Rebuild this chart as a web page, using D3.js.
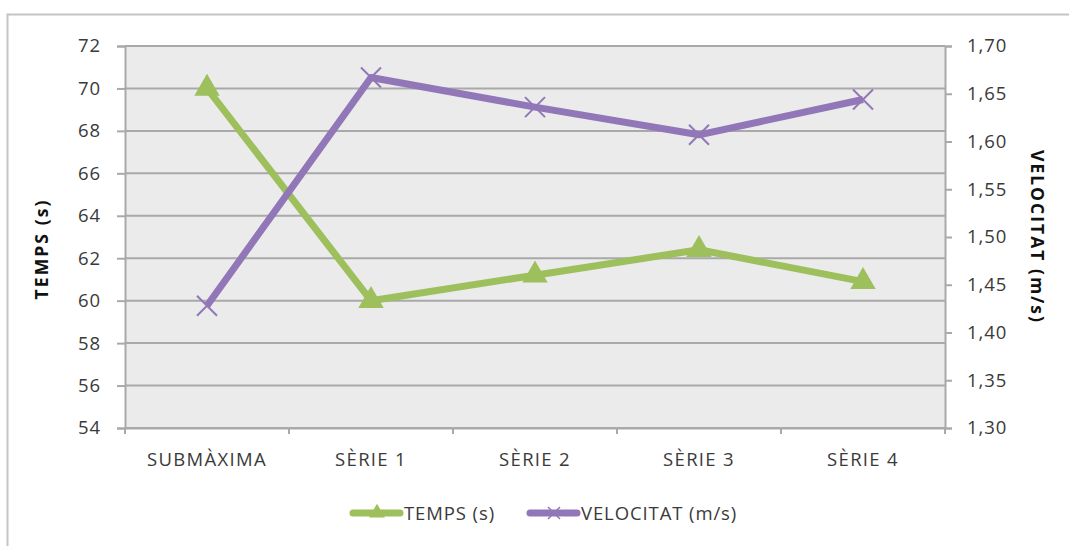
<!DOCTYPE html>
<html><head><meta charset="utf-8">
<script src="https://cdn.jsdelivr.net/npm/d3@7"></script>
<style>
html,body{margin:0;padding:0;background:#fff;}
svg text{font-family:"Open Sans","Liberation Sans",sans-serif;}
</style></head>
<body><svg id="c" width="1069" height="546"></svg>
<script>
const categories = ["SUBMÀXIMA","SÈRIE 1","SÈRIE 2","SÈRIE 3","SÈRIE 4"];
const temps = [70, 60, 61.2, 62.4, 60.9];
const velocitat = [1.428, 1.667, 1.636, 1.607, 1.644];
const leftTicks = [54,56,58,60,62,64,66,68,70,72];
const rightTicks = [1.30,1.35,1.40,1.45,1.50,1.55,1.60,1.65,1.70];
const seriesNames = ["TEMPS (s)","VELOCITAT (m/s)"];
const leftTitle = "TEMPS (s)";
const rightTitle = "VELOCITAT (m/s)";

const svg = d3.select("#c");
const L = 125, R = 945, T = 46, B = 428;
const green = "#9dbf5c", purple = "#9277b8", grid = "#a9a9a9", axisC = "#a9a9a9", txt = "#3a3a3a";
const FS = "18.5px", LS = "0.9px";

// outer frame (left + top only visible)
svg.append("path").attr("d","M7.5,546 V14.5 H1069").attr("fill","none").attr("stroke","#c4c4c4").attr("stroke-width",2);

const x = d3.scaleBand().domain(categories).range([L,R]);
const yL = d3.scaleLinear().domain([54,72]).range([B,T]);
const yR = d3.scaleLinear().domain([1.30,1.70]).range([B,T]);

svg.append("rect").attr("x",L).attr("y",T).attr("width",R-L).attr("height",B-T).attr("fill","#ebebeb");

// gridlines
svg.append("g").selectAll("line").data(leftTicks).join("line")
  .attr("x1",L).attr("x2",R).attr("y1",d=>yL(d)).attr("y2",d=>yL(d))
  .attr("stroke",grid).attr("stroke-width",2);

// left axis
const gl = svg.append("g").attr("transform",`translate(${L},0)`)
  .call(d3.axisLeft(yL).tickValues(leftTicks).tickSize(8).tickPadding(16).tickFormat(d3.format("d")));
// right axis
const gr = svg.append("g").attr("transform",`translate(${R},0)`)
  .call(d3.axisRight(yR).tickValues(rightTicks).tickSize(7).tickPadding(15).tickFormat(d=>d3.format(".2f")(d).replace(".",",")));
// bottom axis
const gb = svg.append("g").attr("transform",`translate(0,${B})`)
  .call(d3.axisBottom(x).tickSize(0).tickPadding(25));
// category boundary ticks
svg.append("g").selectAll("line").data(d3.range(categories.length+1)).join("line")
  .attr("x1",i=>L+i*x.bandwidth()).attr("x2",i=>L+i*x.bandwidth())
  .attr("y1",B).attr("y2",B+6).attr("stroke",axisC).attr("stroke-width",2);

[gl,gr,gb].forEach(g=>{
  g.select(".domain").attr("stroke",axisC).attr("stroke-width",2);
  g.selectAll(".tick line").attr("stroke",axisC).attr("stroke-width",2);
  g.selectAll("text").attr("fill",txt).style("font-size",FS).style("letter-spacing",LS);
});
gb.selectAll("text").style("letter-spacing","1.3px");

// axis titles
svg.append("text").attr("transform",`translate(48,250) rotate(-90)`)
  .attr("text-anchor","middle").style("font-size","17.5px").style("font-weight","bold").attr("fill","#111")
  .attr("textLength",99).attr("lengthAdjust","spacing").text(leftTitle);
svg.append("text").attr("transform",`translate(1031,236) rotate(90)`)
  .attr("text-anchor","middle").style("font-size","17.5px").style("font-weight","bold").attr("fill","#111")
  .attr("textLength",172).attr("lengthAdjust","spacing").text(rightTitle);

const cx = d=>x(d)+x.bandwidth()/2;

// lines
const lineL = d3.line().x((d,i)=>cx(categories[i])).y(d=>yL(d));
const lineR = d3.line().x((d,i)=>cx(categories[i])).y(d=>yR(d));
svg.append("path").attr("d",lineL(temps)).attr("fill","none").attr("stroke",green).attr("stroke-width",7).attr("stroke-linejoin","round");
svg.append("path").attr("d",lineR(velocitat)).attr("fill","none").attr("stroke",purple).attr("stroke-width",7).attr("stroke-linejoin","round");

// markers
const tri = d3.symbol().type(d3.symbolTriangle).size(280);
svg.append("g").selectAll("path").data(temps).join("path")
  .attr("d",tri).attr("transform",(d,i)=>`translate(${cx(categories[i])},${yL(d)})`).attr("fill",green);
const cross = s=>`M${-s},${-s}L${s},${s}M${-s},${s}L${s},${-s}`;
svg.append("g").selectAll("path").data(velocitat).join("path")
  .attr("d",cross(10)).attr("transform",(d,i)=>`translate(${cx(categories[i])},${yR(d)})`)
  .attr("stroke",purple).attr("stroke-width",2).attr("fill","none");

// legend
const lg = svg.append("g");
const legendItems = [{name:seriesNames[0],c:green,x0:350,type:"tri"},{name:seriesNames[1],c:purple,x0:527,type:"x"}];
legendItems.forEach(it=>{
  lg.append("line").attr("x1",it.x0+3).attr("x2",it.x0+50).attr("y1",513).attr("y2",513)
    .attr("stroke",it.c).attr("stroke-width",7).attr("stroke-linecap","round");
  if(it.type==="tri"){
    lg.append("path").attr("d",d3.symbol().type(d3.symbolTriangle).size(110)).attr("transform",`translate(${it.x0+27},513)`).attr("fill",it.c);
  } else {
    lg.append("path").attr("d",cross(6)).attr("transform",`translate(${it.x0+27},513)`).attr("stroke",it.c).attr("stroke-width",1.5).attr("fill","none");
  }
  lg.append("text").attr("x",it.x0+54).attr("y",520).attr("fill",txt).style("font-size",FS).style("letter-spacing",LS).text(it.name);
});
</script></body></html>
